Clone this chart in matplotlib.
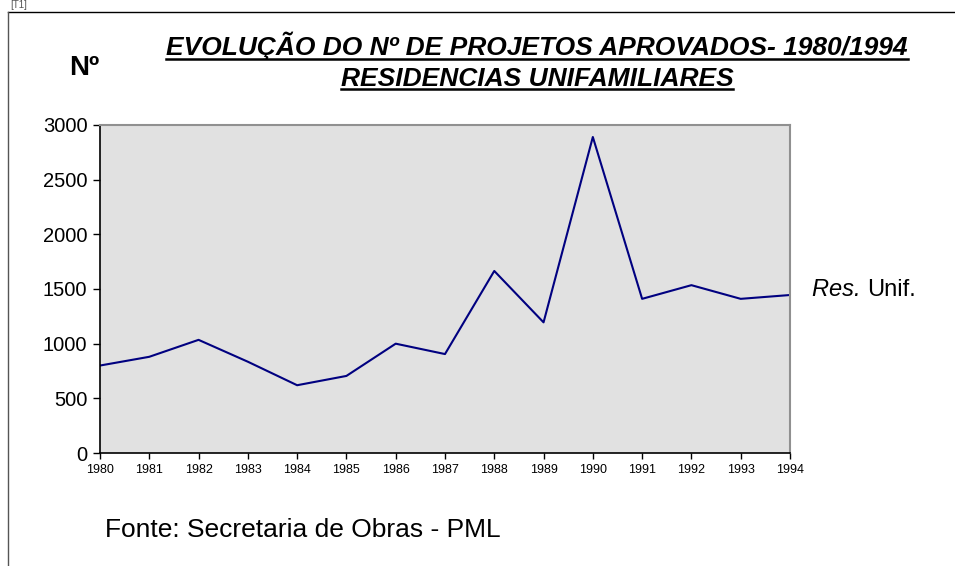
import numpy as np
import matplotlib.pyplot as plt
from matplotlib.lines import Line2D

# data
years = [1980, 1981, 1982, 1983, 1984, 1985, 1986, 1987,
         1988, 1989, 1990, 1991, 1992, 1993, 1994]
res_unif = [800, 880, 1035, 835, 620, 705, 1000, 905,
            1665, 1195, 2890, 1410, 1535, 1410, 1445]
y_ticks = [0, 500, 1000, 1500, 2000, 2500, 3000]

title_lines = ["EVOLUÇÃO DO Nº DE PROJETOS APROVADOS- 1980/1994",
               "RESIDENCIAS UNIFAMILIARES"]

plt.rcParams['font.family'] = ['Liberation Sans', 'DejaVu Sans']

fig = plt.figure(figsize=(9.55, 5.66), dpi=100)
ax = fig.add_axes([0.1047, 0.1996, 0.7225, 0.5796])

ax.plot(years, res_unif, color='#000080', linewidth=1.5)
ax.set_facecolor('#e1e1e1')
ax.set_xlim(1980, 1994)
ax.set_ylim(0, 3000)
ax.set_xticks(years)
ax.set_xticklabels([str(y) for y in years], fontsize=9)
ax.set_yticks(y_ticks)
ax.set_yticklabels([str(v) for v in y_ticks], fontsize=14.5)
ax.tick_params(axis='y', direction='out', length=5, width=1, pad=4)
ax.tick_params(axis='x', direction='out', length=4, width=1, pad=4)
for s in ['top', 'right']:
    ax.spines[s].set_color('#909090')
    ax.spines[s].set_linewidth(1.5)
for s in ['left', 'bottom']:
    ax.spines[s].set_color('black')
    ax.spines[s].set_linewidth(1.2)

# outer frame (top and left edges only visible)
fig.add_artist(Line2D([8/955, 1], [1-12/566, 1-12/566], color='black', lw=1))
fig.add_artist(Line2D([8/955, 8/955], [0, 1-12/566], color='#555555', lw=1))
fig.text(10/955, 1-5/566, "[T1]", fontsize=7, color='#555555', va='center')

# title with underline
title_ys = [1-46/566, 1-79/566]
fig.canvas.draw()
renderer = fig.canvas.get_renderer()
for txt, ty in zip(title_lines, title_ys):
    t = fig.text(537/955, ty, txt, ha='center', va='center', fontsize=19,
                 fontweight='bold', fontstyle='italic')
    bb = t.get_window_extent(renderer).transformed(fig.transFigure.inverted())
    fig.add_artist(Line2D([bb.x0, bb.x1], [bb.y0 + 0.003, bb.y0 + 0.003],
                          color='black', lw=1.8))

fig.text(84/955, 1-68/566, "Nº", ha='center', va='center', fontsize=20,
         fontweight='bold')

# series label
t_res = fig.text(812/955, 1-290/566, "Res. ", ha='left', va='center',
                 fontsize=17, fontstyle='italic')
bb = t_res.get_window_extent(renderer).transformed(fig.transFigure.inverted())
fig.text(bb.x1, 1-290/566, "Unif.", ha='left', va='center', fontsize=17)

fig.text(105/955, 1-530/566, "Fonte: Secretaria de Obras - PML", ha='left',
         va='center', fontsize=19)

fig.savefig('out.png', dpi=100)
